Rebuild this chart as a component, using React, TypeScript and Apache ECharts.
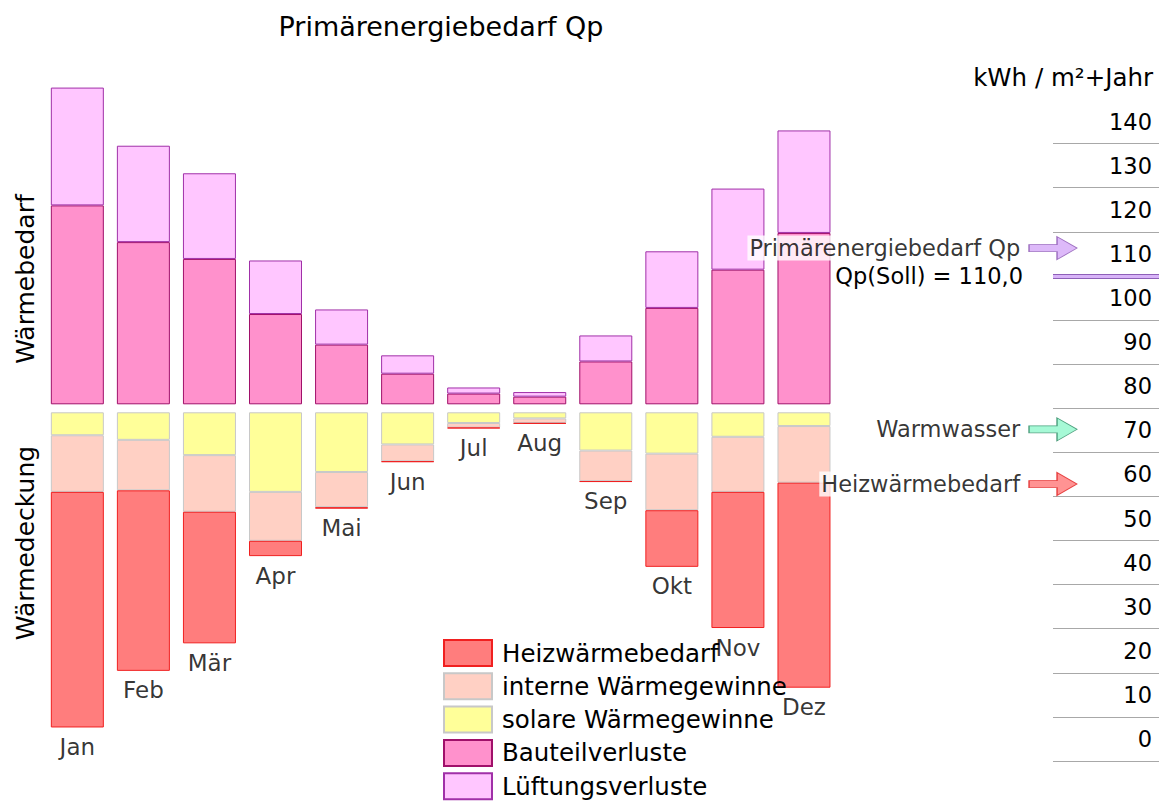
import React, { useEffect, useRef } from "react";
import * as echarts from "echarts";

// ---- data (kWh/m² per month) ----
const months = ["Jan", "Feb", "Mär", "Apr", "Mai", "Jun", "Jul", "Aug", "Sep", "Okt", "Nov", "Dez"];
const bauteilverluste = [13.0, 10.6, 9.5, 5.9, 3.9, 2.0, 0.7, 0.5, 2.8, 6.3, 8.8, 11.2];
const lueftungsverluste = [7.7, 6.3, 5.6, 3.5, 2.3, 1.2, 0.4, 0.3, 1.7, 3.7, 5.3, 6.7];
const solareGewinne = [1.5, 1.8, 2.8, 5.2, 3.9, 2.1, 0.7, 0.4, 2.5, 2.7, 1.6, 0.9];
const interneGewinne = [3.7, 3.3, 3.7, 3.2, 2.3, 1.1, 0.3, 0.3, 2.0, 3.7, 3.6, 3.7];
const heizwaermebedarf = [15.4, 11.8, 8.6, 1.0, 0.1, 0.05, 0.05, 0.05, 0.05, 3.7, 8.9, 13.4];

// ---- annual scale (kWh / m²+Jahr) ----
const scaleMin = 0;
const scaleMax = 140;
const scaleStep = 10;
const markerNames = ["Primärenergiebedarf Qp", "Warmwasser", "Heizwärmebedarf"];
const markerValues = [116.3, 75.2, 62.8];
const qpSoll = 110.0;

const FONT = "DejaVu Sans";
const markerFill = ["#D4A8F8", "#90F8CC", "#FF7878"];
const markerBorder = ["#8A55B0", "#2E8A64", "#E02020"];
const ARROW = "path://M0,8 L28,8 L28,0 L48,11.5 L28,23 L28,15 L0,15 Z";

export default function App() {
  const ref = useRef<HTMLDivElement>(null);
  useEffect(() => {
    if (!ref.current) return;
    const chart = echarts.init(ref.current, null, { renderer: "svg" });
    const totals = months.map((_, i) => solareGewinne[i] + interneGewinne[i] + heizwaermebedarf[i]);
    const gridL = 44.3;
    const gridW = 792.7;
    const option: any = {
      animation: false,
      backgroundColor: "#ffffff",
      textStyle: { fontFamily: FONT },
      graphic: [
        { type: "text", x: 441, y: 26, style: { text: "Primärenergiebedarf Qp", font: `27px '${FONT}'`, fill: "#000", align: "center", verticalAlign: "middle" } },
        { type: "text", x: 1153, y: 77, style: { text: "kWh / m²+Jahr", font: `24.5px '${FONT}'`, fill: "#000", align: "right", verticalAlign: "middle" } },
        { type: "text", x: 25, y: 279, rotation: Math.PI / 2, style: { text: "Wärmebedarf", font: `25px '${FONT}'`, fill: "#000", align: "center", verticalAlign: "middle" } },
        { type: "text", x: 25, y: 543, rotation: Math.PI / 2, style: { text: "Wärmedeckung", font: `25px '${FONT}'`, fill: "#000", align: "center", verticalAlign: "middle" } },
      ],
      legend: {
        orient: "vertical",
        left: 443,
        top: 639,
        height: 162,
        padding: 0,
        itemWidth: 48,
        itemHeight: 26,
        itemGap: 5.3,
        icon: "rect",
        data: ["Heizwärmebedarf", "interne Wärmegewinne", "solare Wärmegewinne", "Bauteilverluste", "Lüftungsverluste"],
        textStyle: { fontSize: 24.5, fontFamily: FONT, color: "#000", padding: [0, 0, 0, 5] },
        selectedMode: false,
      },
      grid: [
        { left: gridL, width: gridW, top: 83, height: 321.3 },
        { left: gridL, width: gridW, top: 412.3, height: 336.6 },
        { left: 1053, width: 106, top: 143.6, height: 617.4 },
      ],
      xAxis: [
        { type: "category", gridIndex: 0, data: months, show: false },
        { type: "category", gridIndex: 1, data: months, show: false },
        { type: "value", gridIndex: 2, min: 0, max: 1, show: false },
      ],
      yAxis: [
        { type: "value", gridIndex: 0, min: 0, max: 21, show: false },
        { type: "value", gridIndex: 1, min: 0, max: 22, inverse: true, show: false },
        {
          type: "value",
          gridIndex: 2,
          min: scaleMin,
          max: scaleMax,
          interval: scaleStep,
          position: "right",
          axisLine: { show: false },
          axisTick: { show: false },
          splitLine: { show: true, lineStyle: { color: "#A8A8A8", width: 1 } },
          axisLabel: {
            inside: true,
            margin: 7,
            fontSize: 22.5,
            fontFamily: FONT,
            color: "#000",
            verticalAlign: "bottom",
            lineHeight: 44,
          },
        },
      ],
      series: [
        {
          name: "Bauteilverluste",
          type: "bar",
          stack: "bedarf",
          xAxisIndex: 0,
          yAxisIndex: 0,
          barWidth: 53,
          data: bauteilverluste,
          itemStyle: { color: "#FF91CC", borderColor: "#A0106A", borderWidth: 1 },
        },
        {
          name: "Lüftungsverluste",
          type: "bar",
          stack: "bedarf",
          xAxisIndex: 0,
          yAxisIndex: 0,
          barWidth: 53,
          data: lueftungsverluste,
          itemStyle: { color: "#FFC6FF", borderColor: "#A030A8", borderWidth: 1 },
        },
        {
          name: "solare Wärmegewinne",
          type: "bar",
          stack: "deckung",
          xAxisIndex: 1,
          yAxisIndex: 1,
          barWidth: 53,
          data: solareGewinne,
          itemStyle: { color: "#FFFF99", borderColor: "#C8C8C8", borderWidth: 1 },
        },
        {
          name: "interne Wärmegewinne",
          type: "bar",
          stack: "deckung",
          xAxisIndex: 1,
          yAxisIndex: 1,
          barWidth: 53,
          data: interneGewinne,
          itemStyle: { color: "#FFD0C4", borderColor: "#C8C8C8", borderWidth: 1 },
        },
        {
          name: "Heizwärmebedarf",
          type: "bar",
          stack: "deckung",
          xAxisIndex: 1,
          yAxisIndex: 1,
          barWidth: 53,
          data: heizwaermebedarf,
          itemStyle: { color: "#FF7D7D", borderColor: "#F02020", borderWidth: 1 },
        },
        {
          name: "Monate",
          type: "scatter",
          xAxisIndex: 1,
          yAxisIndex: 1,
          symbolSize: 0,
          silent: true,
          clip: false,
          data: months.map((m, i) => [i, totals[i]]),
          label: {
            show: true,
            position: "bottom",
            distance: 8,
            fontSize: 23,
            fontFamily: FONT,
            color: "#000",
            formatter: (p: any) => months[p.dataIndex],
          },
          z: 3,
        },
        {
          name: "Jahreswerte",
          type: "scatter",
          xAxisIndex: 2,
          yAxisIndex: 2,
          symbol: ARROW,
          symbolSize: [48, 23],
          clip: false,
          silent: true,
          z: 10,
          data: markerValues.map((v, i) => ({
            name: markerNames[i],
            value: [0, v],
            itemStyle: { color: markerFill[i], borderColor: markerBorder[i], borderWidth: 1 },
          })),
          label: {
            show: true,
            position: "left",
            distance: 6,
            formatter: "{b}",
            fontSize: 22.5,
            fontFamily: FONT,
            color: "#000",
            backgroundColor: "#ffffff",
            padding: [1, 2, 1, 2],
          },
          markLine: {
            silent: true,
            symbol: ["none", "none"],
            data: [
              {
                yAxis: qpSoll,
                lineStyle: { type: "solid", width: 5, color: "#8E60B8" },
                label: {
                  show: true,
                  position: "start",
                  distance: 30,
                  fontSize: 22.5,
                  fontFamily: FONT,
                  color: "#000",
                  formatter: () => `Qp(Soll) = ${qpSoll.toFixed(1).replace(".", ",")}`,
                },
              },
              {
                yAxis: qpSoll,
                lineStyle: { type: "solid", width: 3, color: "#D8B4F8" },
                label: { show: false },
              },
            ],
          },
        },
      ],
    };
    chart.setOption(option);
    return () => chart.dispose();
  }, []);
  return <div ref={ref} style={{ position: "fixed", left: 0, top: 0, width: 1167, height: 801 }} />;
}
